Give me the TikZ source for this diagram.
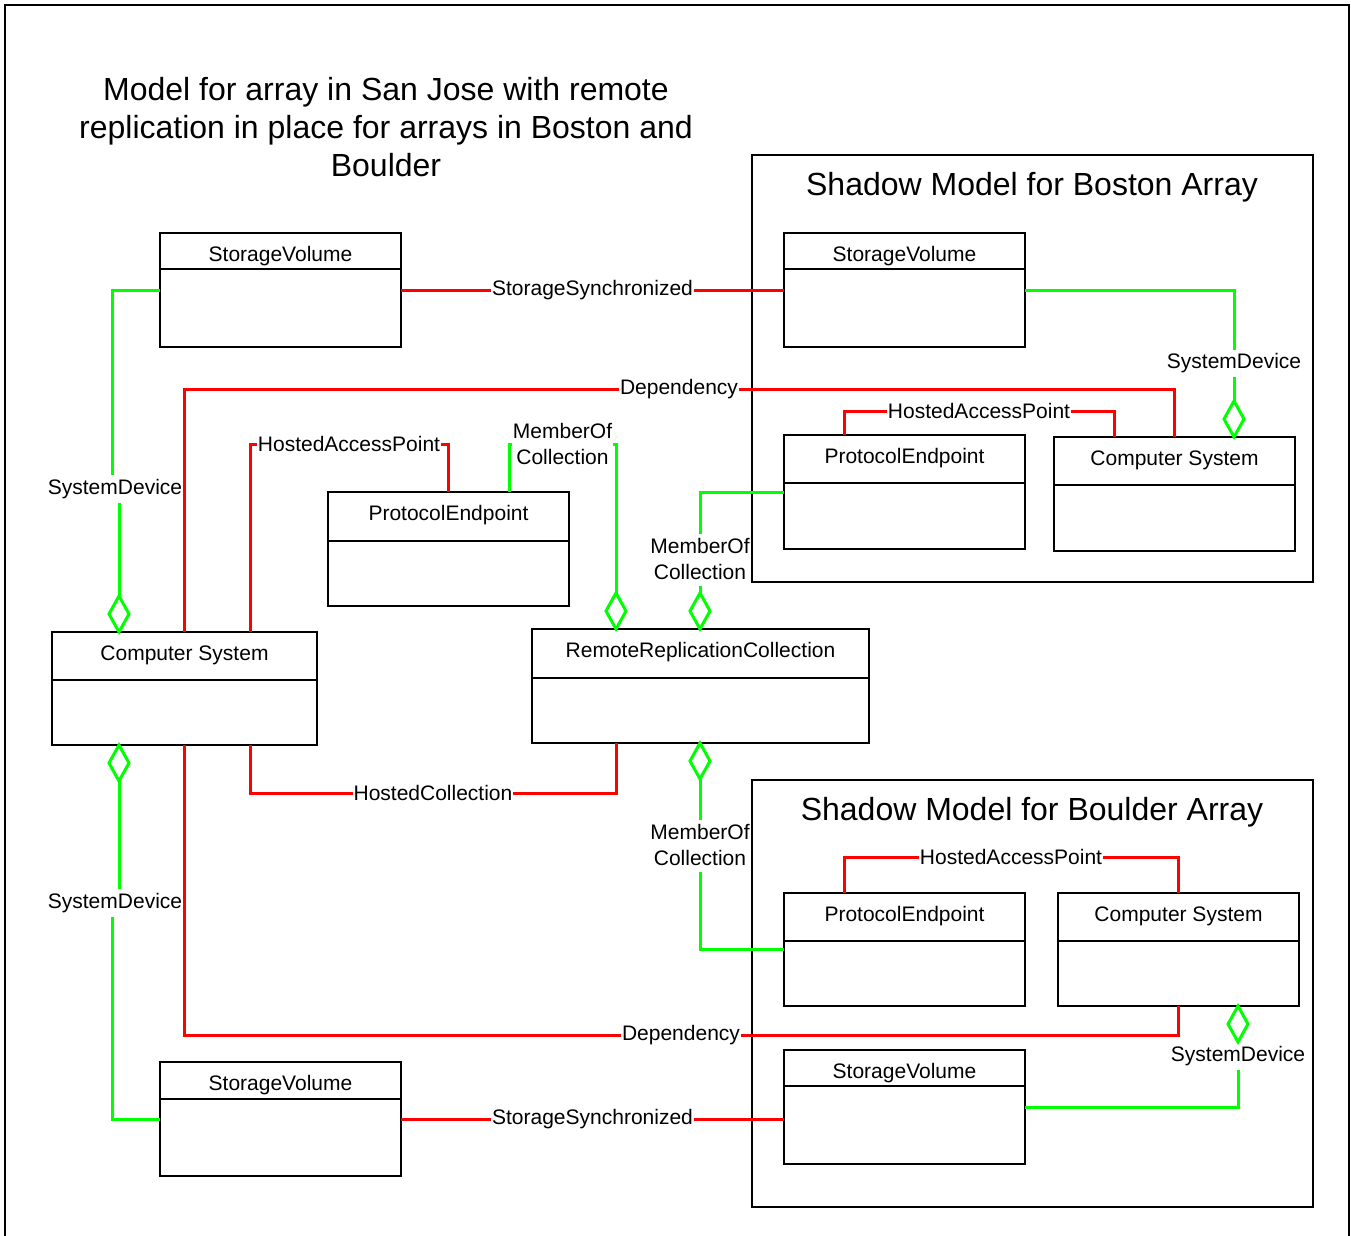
\documentclass[tikz,border=0pt]{standalone}
\usepackage{fontspec}
\setmainfont{Liberation Sans}
\usetikzlibrary{calc}
\definecolor{lgreen}{RGB}{0,255,0}
\definecolor{lred}{RGB}{255,0,0}

\newcommand\umlbox[7]{% name, x, ytop, w, h, header height, text
  \node[boxst, minimum width=#4pt, minimum height=#5pt] (#1) at (#2,-#3) {};
  \draw[line width=1.8pt] ([yshift=-#6pt]#1.north west) -- ([yshift=-#6pt]#1.north east);
  \node[hdrtxt, anchor=base] at ([yshift=-28pt]#1.north) {#7};
}
\newcommand\gdiam[3]{% name, x, ytop
  \draw[diam] (#2,-#3) -- (#2+10,-#3-18) -- (#2,-#3-36) -- (#2-10,-#3-18) -- cycle;
  \coordinate (#1t) at (#2,-#3);
  \coordinate (#1b) at (#2,-#3-36);
}

\begin{document}
\begin{tikzpicture}[x=1pt,y=1pt,
  boxst/.style={draw=black, line width=1.8pt, fill=white, inner sep=0pt, outer sep=0pt, anchor=north west},
  contst/.style={draw=black, line width=1.8pt, inner sep=0pt, outer sep=0pt, anchor=north west},
  hdrtxt/.style={font=\fontsize{21}{26}\selectfont, inner sep=0pt},
  lbl/.style={font=\fontsize{21}{26}\selectfont, fill=white, inner sep=1pt, align=center},
  lblnf/.style={font=\fontsize{21}{26}\selectfont, inner sep=0pt, align=center},
  redln/.style={draw=lred, line width=3pt},
  grnln/.style={draw=lgreen, line width=3pt},
  diam/.style={draw=lgreen, line width=3pt, fill=white, line join=miter},
  outerframe/.style={draw=black, line width=2.6pt}
]
\useasboundingbox (0,0) rectangle (1351,-1235);
\fill[white] (0,0) rectangle (1351,-1235);

% outer frame
\draw[outerframe] (5,-1240) -- (5,-5) -- (1349,-5) -- (1349,-1240);

% title
\node[font=\fontsize{32}{38}\selectfont, align=center, inner sep=0pt] (title) at (386,-127)
  {Model for array in San Jose with remote\\replication in place for arrays in Boston and\\Boulder};

% containers
\node[contst, minimum width=561pt, minimum height=427pt] (boston) at (752,-155) {};
\node[font=\fontsize{32}{38}\selectfont, inner sep=0pt, anchor=base] (bostontitle) at (1032,-195) {Shadow Model for Boston Array};
\node[contst, minimum width=561pt, minimum height=427pt] (boulder) at (752,-780) {};
\node[font=\fontsize{32}{38}\selectfont, inner sep=0pt, anchor=base] (bouldertitle) at (1032,-820) {Shadow Model for Boulder Array};

% boxes
\umlbox{sv1}{160}{233}{241}{114}{36}{StorageVolume}
\umlbox{sv2}{784}{233}{241}{114}{36}{StorageVolume}
\umlbox{peb}{784}{435}{241}{114}{48}{ProtocolEndpoint}
\umlbox{csb}{1054}{437}{241}{114}{48}{Computer System}
\umlbox{pe}{328}{492}{241}{114}{49}{ProtocolEndpoint}
\umlbox{cs}{52}{632}{265}{113}{48}{Computer System}
\umlbox{rrc}{532}{629}{337}{114}{49}{RemoteReplicationCollection}
\umlbox{ped}{784}{893}{241}{113}{48}{ProtocolEndpoint}
\umlbox{csd}{1058}{893}{241}{113}{48}{Computer System}
\umlbox{svd}{784}{1050}{241}{114}{36}{StorageVolume}
\umlbox{sv3}{160}{1062}{241}{114}{37}{StorageVolume}

% red connectors
\draw[redln] (sv1.east) -- node[lbl]{StorageSynchronized} (sv2.west);
\draw[redln] (sv3.east) -- node[lbl]{StorageSynchronized} (sv3.east -| svd.west);
\draw[redln] ([xshift=132pt]cs.north west) -- (184,-389) -- node[lbl]{Dependency} (1174,-389) -- ([xshift=120pt]csb.north west);
\draw[redln] ([xshift=198pt]cs.north west) -- (250,-444) -- node[lbl]{HostedAccessPoint} (448,-444) -- ([xshift=120pt]pe.north west);
\draw[redln] ([xshift=60pt]peb.north west) -- (844,-411) -- node[lbl]{HostedAccessPoint} (1114,-411) -- ([xshift=60pt]csb.north west);
\draw[redln] ([xshift=198pt]cs.south west) -- (250,-793) -- node[lbl]{HostedCollection} (616,-793) -- ([xshift=84pt]rrc.south west);
\draw[redln] ([xshift=60pt]ped.north west) -- (844,-857) -- node[lbl]{HostedAccessPoint} (1178,-857) -- ([xshift=120pt]csd.north west);
\draw[redln] ([xshift=132pt]cs.south west) -- (184,-1035) -- node[lbl]{Dependency} (1178,-1035) -- ([xshift=120pt]csd.south west);

% diamonds
\gdiam{d1}{119}{596}
\gdiam{d2}{119}{745}
\gdiam{d3}{616}{593}
\gdiam{d4}{700}{593}
\gdiam{d5}{1234}{401}
\gdiam{d6}{700}{743}
\gdiam{d7}{1238}{1006}

% green connectors
\draw[grnln] (sv1.west) -| (112,-475);
\node[lblnf] (l1) at (115,-489) {SystemDevice};
\draw[grnln] (119,-503) -- (d1t);

\draw[grnln] (d2b) -- (119,-889);
\node[lblnf] (l2) at (115,-903) {SystemDevice};
\draw[grnln] (112,-917) |- (sv3.west);

\draw[grnln] ([xshift=181pt]pe.north west) -- (509,-444) -- node[lbl]{MemberOf\\Collection} (616,-444) -- (d3t);

\draw[grnln] (peb.west) -| (700,-534);
\node[lblnf] (l4) at (700,-559) {MemberOf\\Collection};
\draw[grnln] (700,-586) -- (d4t);

\draw[grnln] (sv2.east) -| (1234,-350);
\node[lblnf] (l5) at (1234,-363) {SystemDevice};
\draw[grnln] (1234,-377) -- (d5t);

\draw[grnln] (d6b) -- (700,-820);
\node[lblnf] (l6) at (700,-845) {MemberOf\\Collection};
\draw[grnln] (700,-872) |- (ped.west);

\node[lblnf] (l7) at (1238,-1056) {SystemDevice};
\draw[grnln] (1238,-1070) |- (svd.east);
\end{tikzpicture}
\end{document}
